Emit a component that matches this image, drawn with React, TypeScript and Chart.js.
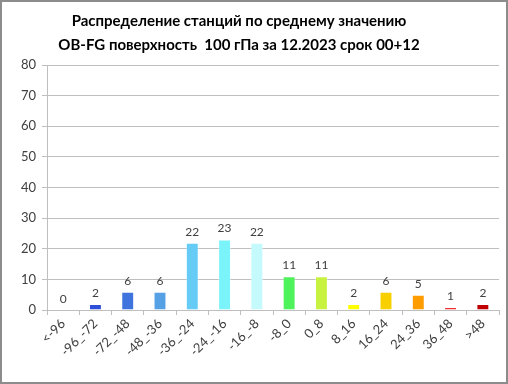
import React, { useEffect, useRef } from "react";
import { Chart, registerables } from "chart.js";
Chart.register(...registerables);

const categories = ["<-96", "-96_-72", "-72_-48", "-48_-36", "-36_-24", "-24_-16", "-16_-8", "-8_0", "0_8", "8_16", "16_24", "24_36", "36_48", ">48"];
const counts = [0, 2, 6, 6, 22, 23, 22, 11, 11, 2, 6, 5, 1, 2];
const barColors = ["#2E4FD8", "#2E4FD8", "#3F74DE", "#56A0E6", "#66CCF5", "#7AF4FA", "#C4FAFC", "#4EF25A", "#C8F240", "#FFFF00", "#F8D000", "#FF9C00", "#F03030", "#C00000"];
const titleLines = ["Распределение станций по среднему значению", "OB-FG поверхность  100 гПа за 12.2023 срок 00+12"];
const yTicks = { min: 0, max: 80, step: 10 };

const FONT = "Lato, 'Open Sans', sans-serif";

export default function App() {
  const ref = useRef<HTMLCanvasElement>(null);
  useEffect(() => {
    document.body.style.margin = "0";
    const titlePlugin = {
      id: "customTitle",
      afterDraw(chart: any) {
        const ctx = chart.ctx;
        ctx.save();
        ctx.fillStyle = "#000";
        ctx.font = `bold 15px ${FONT}`;
        ctx.textAlign = "center";
        ctx.textBaseline = "middle";
        ctx.fillText(titleLines[0], 237, 19);
        ctx.fillText(titleLines[1], 237, 43);
        ctx.restore();
      },
    };
    const labelPlugin = {
      id: "valueLabels",
      afterDatasetsDraw(chart: any) {
        const ctx = chart.ctx;
        const meta = chart.getDatasetMeta(0);
        ctx.save();
        ctx.fillStyle = "#404040";
        ctx.font = `12px ${FONT}`;
        ctx.textAlign = "center";
        ctx.textBaseline = "bottom";
        meta.data.forEach((el: any, i: number) => {
          ctx.fillText(String(counts[i]), el.x, el.y - 5);
        });
        ctx.restore();
      },
    };
    const chart = new Chart(ref.current!, {
      type: "bar",
      data: {
        labels: categories,
        datasets: [
          {
            data: counts,
            backgroundColor: barColors,
            borderColor: "rgba(255,255,255,0.35)",
            borderWidth: 1,
            barPercentage: 0.4,
            categoryPercentage: 1,
          },
        ],
      },
      options: {
        animation: false,
        responsive: false,
        devicePixelRatio: 1,
        layout: { padding: { top: 63, right: 7, left: 0, bottom: 0 } },
        plugins: { legend: { display: false }, title: { display: false }, tooltip: { enabled: false } },
        scales: {
          x: {
            grid: { display: true, drawOnChartArea: false, color: "#BFBFBF", tickLength: 5, offset: true },
            border: { color: "#BFBFBF" },
            ticks: { color: "#404040", font: { family: FONT, size: 13 }, maxRotation: 45, minRotation: 45, padding: 1 },
            afterFit(scale: any) { scale.height = 72; },
          },
          y: {
            min: yTicks.min,
            max: yTicks.max,
            grid: { color: "#BFBFBF", tickLength: 5 },
            border: { color: "#BFBFBF" },
            ticks: { stepSize: yTicks.step, color: "#404040", font: { family: FONT, size: 13 }, padding: 6 },
            afterFit(scale: any) { scale.width = 45; },
          },
        },
      },
      plugins: [titlePlugin, labelPlugin],
    });
    return () => chart.destroy();
  }, []);
  return (
    <div style={{ width: 508, height: 384, boxSizing: "border-box", border: "2px solid #8C8C8C", position: "relative", background: "#fff" }}>
      <canvas ref={ref} width={504} height={380} style={{ display: "block" }} />
    </div>
  );
}
